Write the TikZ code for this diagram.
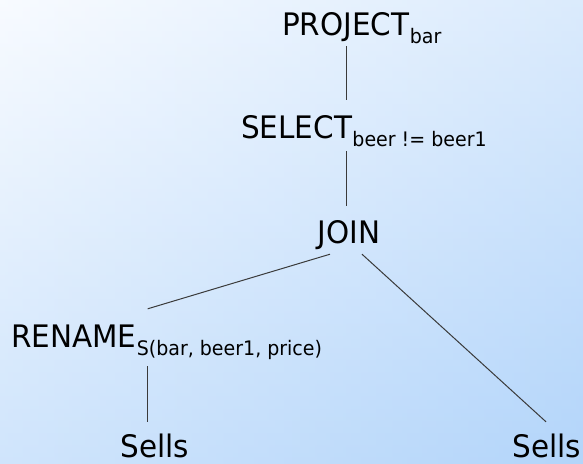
\documentclass[tikz,border=0pt]{standalone}
\usepackage{fontspec}
\setmainfont{DejaVu Sans}[FakeStretch=0.95]
\usepackage{tikz}
\usepackage{xcolor}
\definecolor{slidetop}{HTML}{F8FBFF}
\definecolor{slidebottom}{HTML}{B3D5FA}
\definecolor{edgegray}{HTML}{3A3A3A}
\tikzset{
    optext/.style={inner sep=0pt, text height=23pt, text depth=0pt, font=\fontsize{31}{36}\selectfont},
    subtext/.style={inner sep=0pt, font=\fontsize{20}{24}\selectfont},
}
\newcommand{\relnode}[4] {
    \node[optext,anchor=base west] (#1) at (#2) {#3};
    \node[subtext,anchor=base west] (#1sub) at ([yshift=-8.5pt]#1.base east) {#4};
}

\begin{document}
\begin{tikzpicture}[x=1pt,y=-1pt]
        % slide background, diagonal gradient
        \shade[top color=slidetop, bottom color=slidebottom] (0,0) rectangle (583,463);
        \shade[left color=slidetop, right color=slidebottom, fill opacity=0.42] (0,0) rectangle (583,463);
        \useasboundingbox (0,0) rectangle (583,463);
        \relnode{proj}{282,35}{PROJECT}{bar}
        \relnode{sel}{241,138}{SELECT}{beer != beer1}
        \relnode{ren}{11,347}{RENAME}{S(bar, beer1, price)}
        \node[optext,anchor=base] (join)   at (349,243) {JOIN};
        \node[optext,anchor=base] (sellsL) at (155,457) {Sells};
        \node[optext,anchor=base] (sellsR) at (547,457) {Sells};
        \coordinate (spine) at ([xshift=-3pt]join.north);
        \coordinate (renspine) at ([xshift=11pt]ren.south east);
        \begin{scope}[every path/.style={draw=edgegray, line width=1pt}]
            \draw[shorten <=11pt, shorten >=15pt] (spine |- proj.south) -- (spine |- sel.north);
            \draw[shorten <=13pt, shorten >=14pt] (spine |- sel.south) -- (spine |- join.north);
            \draw ([xshift=-19pt,yshift=-11pt]join.south) -- ([xshift=11pt,yshift=15pt]ren.north east);
            \draw ([xshift=13pt,yshift=-11pt]join.south) -- ([xshift=-1pt,yshift=12pt]sellsR.north);
            \draw[shorten <=19pt, shorten >=12pt] (renspine) -- (renspine |- sellsL.north);
        \end{scope}
    \end{tikzpicture}
\end{document}
